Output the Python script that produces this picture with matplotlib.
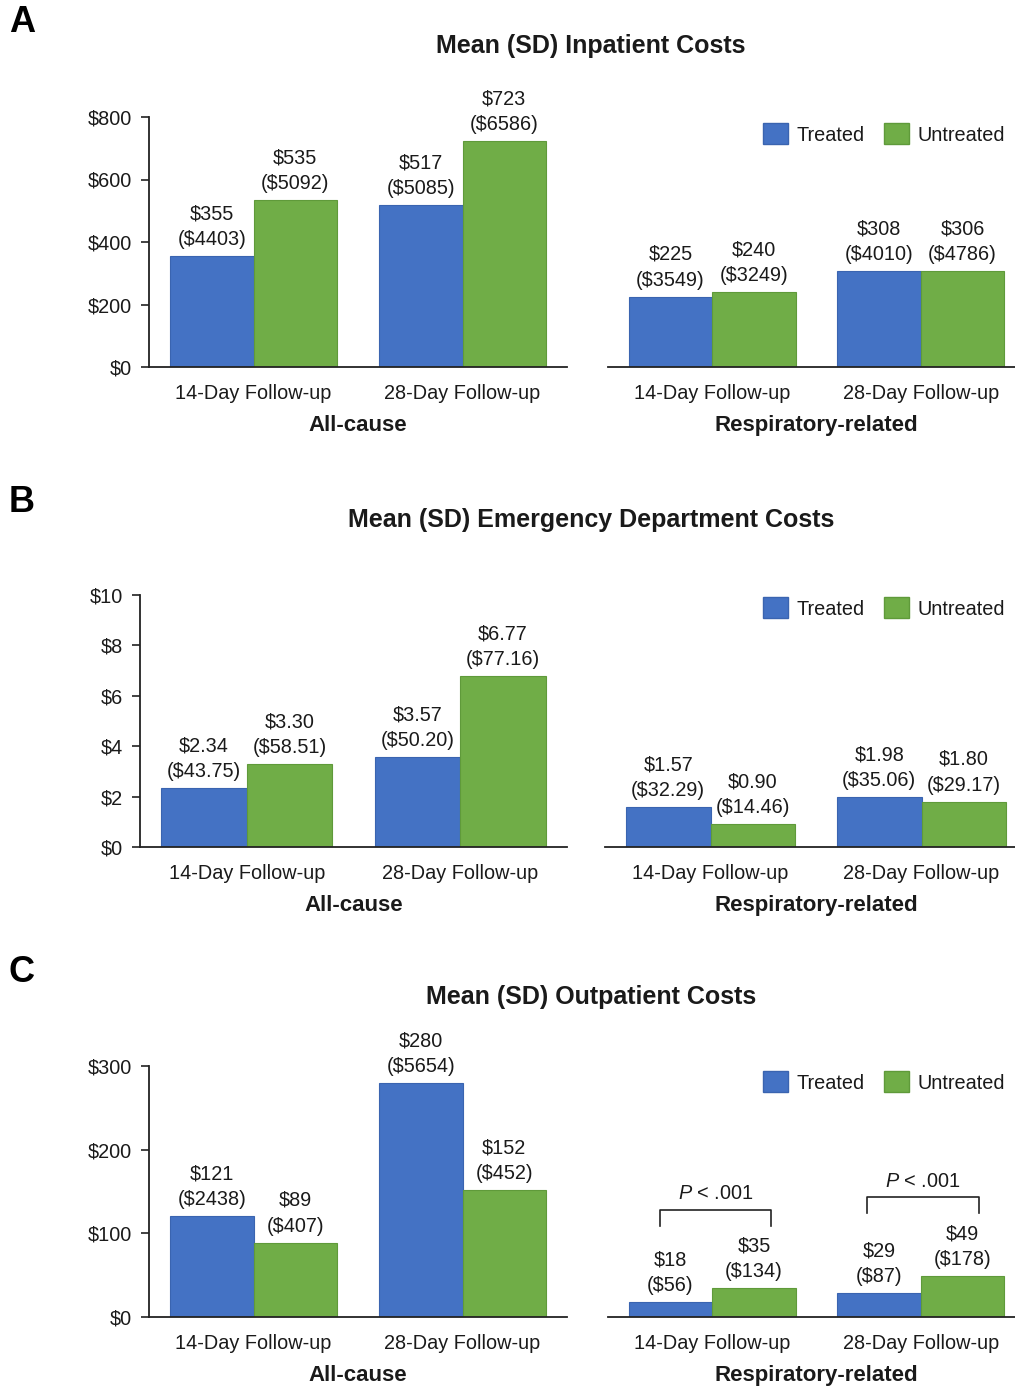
import matplotlib.pyplot as plt
import numpy as np
from matplotlib.patches import Patch

plt.rcParams['font.family'] = ['Liberation Sans', 'DejaVu Sans']
plt.rcParams['mathtext.fontset'] = 'custom'
plt.rcParams['mathtext.it'] = 'Liberation Sans:italic'
plt.rcParams['mathtext.rm'] = 'Liberation Sans'

W, H = 1015, 1389
BLUE = '#4472C4'
GREEN = '#70AD47'
INK = '#1a1a1a'
FS = 14.3

periods = ['14-Day Follow-up', '28-Day Follow-up']
cohorts = ['All-cause', 'Respiratory-related']
series = ['Treated', 'Untreated']

# A: inpatient costs, mean and SD
inpt_all_treated = [355, 517]
inpt_all_untreated = [535, 723]
inpt_all_treated_sd = [4403, 5085]
inpt_all_untreated_sd = [5092, 6586]
inpt_resp_treated = [225, 308]
inpt_resp_untreated = [240, 306]
inpt_resp_treated_sd = [3549, 4010]
inpt_resp_untreated_sd = [3249, 4786]
inpt_ticks = [0, 200, 400, 600, 800]

# B: emergency department costs
ed_all_treated = [2.34, 3.57]
ed_all_untreated = [3.30, 6.77]
ed_all_treated_sd = [43.75, 50.20]
ed_all_untreated_sd = [58.51, 77.16]
ed_resp_treated = [1.57, 1.98]
ed_resp_untreated = [0.90, 1.80]
ed_resp_treated_sd = [32.29, 35.06]
ed_resp_untreated_sd = [14.46, 29.17]
ed_ticks = [0, 2, 4, 6, 8, 10]

# C: outpatient costs
opt_all_treated = [121, 280]
opt_all_untreated = [89, 152]
opt_all_treated_sd = [2438, 5654]
opt_all_untreated_sd = [407, 452]
opt_resp_treated = [18, 29]
opt_resp_untreated = [35, 49]
opt_resp_treated_sd = [56, 87]
opt_resp_untreated_sd = [134, 178]
opt_ticks = [0, 100, 200, 300]
p_labels = ['P < .001', 'P < .001']


def px_axes(fig, left, top, right, bottom):
    return fig.add_axes([left / W, 1 - bottom / H, (right - left) / W, (bottom - top) / H])


def money(v, dec):
    return f"${v:,.{dec}f}".replace(',', '')


def draw_bars(ax, treated, untreated, treated_sd, untreated_sd, ticks, dec,
              cohort, show_y):
    x = np.arange(len(periods))
    w = 0.4
    b1 = ax.bar(x - w / 2, treated, w, color=BLUE, edgecolor='#3a64b0', lw=0.8)
    b2 = ax.bar(x + w / 2, untreated, w, color=GREEN, edgecolor='#5f9a3a', lw=0.8)
    for bars, vals, sds in [(b1, treated, treated_sd), (b2, untreated, untreated_sd)]:
        for bar, v, sd in zip(bars, vals, sds):
            ax.annotate(f"{money(v, dec)}\n({money(sd, dec)})",
                        (bar.get_x() + bar.get_width() / 2, v),
                        xytext=(0, 5), textcoords='offset points',
                        ha='center', va='bottom', fontsize=FS, color=INK,
                        linespacing=1.45, parse_math=False)
    ax.set_xlim(-0.5, 1.5)
    ax.set_ylim(ticks[0], ticks[-1])
    ax.set_xticks(x)
    ax.set_xticklabels(periods, fontsize=FS, color=INK)
    ax.tick_params(axis='x', length=0, pad=12)
    ax.set_xlabel(cohort, fontsize=16, fontweight='bold', color=INK, labelpad=9)
    for s in ['top', 'right']:
        ax.spines[s].set_visible(False)
    ax.spines['bottom'].set_linewidth(1.3)
    ax.spines['bottom'].set_color('#222222')
    if show_y:
        ax.set_yticks(ticks)
        ax.set_yticklabels([money(t, 0) for t in ticks], fontsize=FS, color=INK)
        ax.tick_params(axis='y', length=6, width=1.2, pad=6, color='#222222')
        ax.spines['left'].set_linewidth(1.3)
        ax.spines['left'].set_color('#222222')
    else:
        ax.spines['left'].set_visible(False)
        ax.set_yticks([])
    ax.patch.set_alpha(0)


def add_legend(fig, y):
    handles = [Patch(facecolor=BLUE, edgecolor='#3a64b0'),
               Patch(facecolor=GREEN, edgecolor='#5f9a3a')]
    fig.legend(handles, series, loc='center right', ncol=2, frameon=False,
               bbox_to_anchor=(1005 / W, 1 - y / H), fontsize=FS,
               handlelength=1.25, handleheight=1.25, handletextpad=0.45,
               columnspacing=0.95, borderpad=0, borderaxespad=0,
               labelcolor=INK)


fig = plt.figure(figsize=(W / 100, H / 100), dpi=100)

panels = [
    ('A', 'Mean (SD) Inpatient Costs', 22, 46, 134,
     (149, 117, 567, 367), (608, 117, 1025, 367), inpt_ticks, 0,
     (inpt_all_treated, inpt_all_untreated, inpt_all_treated_sd, inpt_all_untreated_sd),
     (inpt_resp_treated, inpt_resp_untreated, inpt_resp_treated_sd, inpt_resp_untreated_sd)),
    ('B', 'Mean (SD) Emergency Department Costs', 503, 520, 608,
     (140, 595, 567, 847), (605, 595, 1027, 847), ed_ticks, 2,
     (ed_all_treated, ed_all_untreated, ed_all_treated_sd, ed_all_untreated_sd),
     (ed_resp_treated, ed_resp_untreated, ed_resp_treated_sd, ed_resp_untreated_sd)),
    ('C', 'Mean (SD) Outpatient Costs', 973, 997, 1082,
     (149, 1066, 567, 1317), (608, 1066, 1025, 1317), opt_ticks, 0,
     (opt_all_treated, opt_all_untreated, opt_all_treated_sd, opt_all_untreated_sd),
     (opt_resp_treated, opt_resp_untreated, opt_resp_treated_sd, opt_resp_untreated_sd)),
]

resp_axes = []
for letter, title, ly, ty, legy, box_l, box_r, ticks, dec, d_all, d_resp in panels:
    fig.text(22 / W, 1 - ly / H, letter, fontsize=26, fontweight='bold',
             ha='center', va='center', color='black')
    fig.text(591 / W, 1 - ty / H, title, fontsize=18, fontweight='bold',
             ha='center', va='center', color=INK)
    ax_l = px_axes(fig, *box_l)
    draw_bars(ax_l, *d_all, ticks, dec, cohorts[0], True)
    ax_r = px_axes(fig, *box_r)
    draw_bars(ax_r, *d_resp, ticks, dec, cohorts[1], False)
    add_legend(fig, legy)
    resp_axes.append(ax_r)

# significance brackets on outpatient respiratory-related costs
ax = resp_axes[2]
brackets = [(-0.25, 0.28, 128, 109), (0.74, 1.28, 143, 124)]
for (x0, x1, ytop, ybot), lab in zip(brackets, p_labels):
    ax.plot([x0, x0, x1, x1], [ybot, ytop, ytop, ybot], color='#222222',
            lw=1.2, clip_on=False)
    ax.text((x0 + x1) / 2, ytop + 8, lab.replace('P', r'$\mathit{P}$'),
            ha='center', va='bottom', fontsize=FS, color=INK)

fig.savefig('out.png', dpi=100)
